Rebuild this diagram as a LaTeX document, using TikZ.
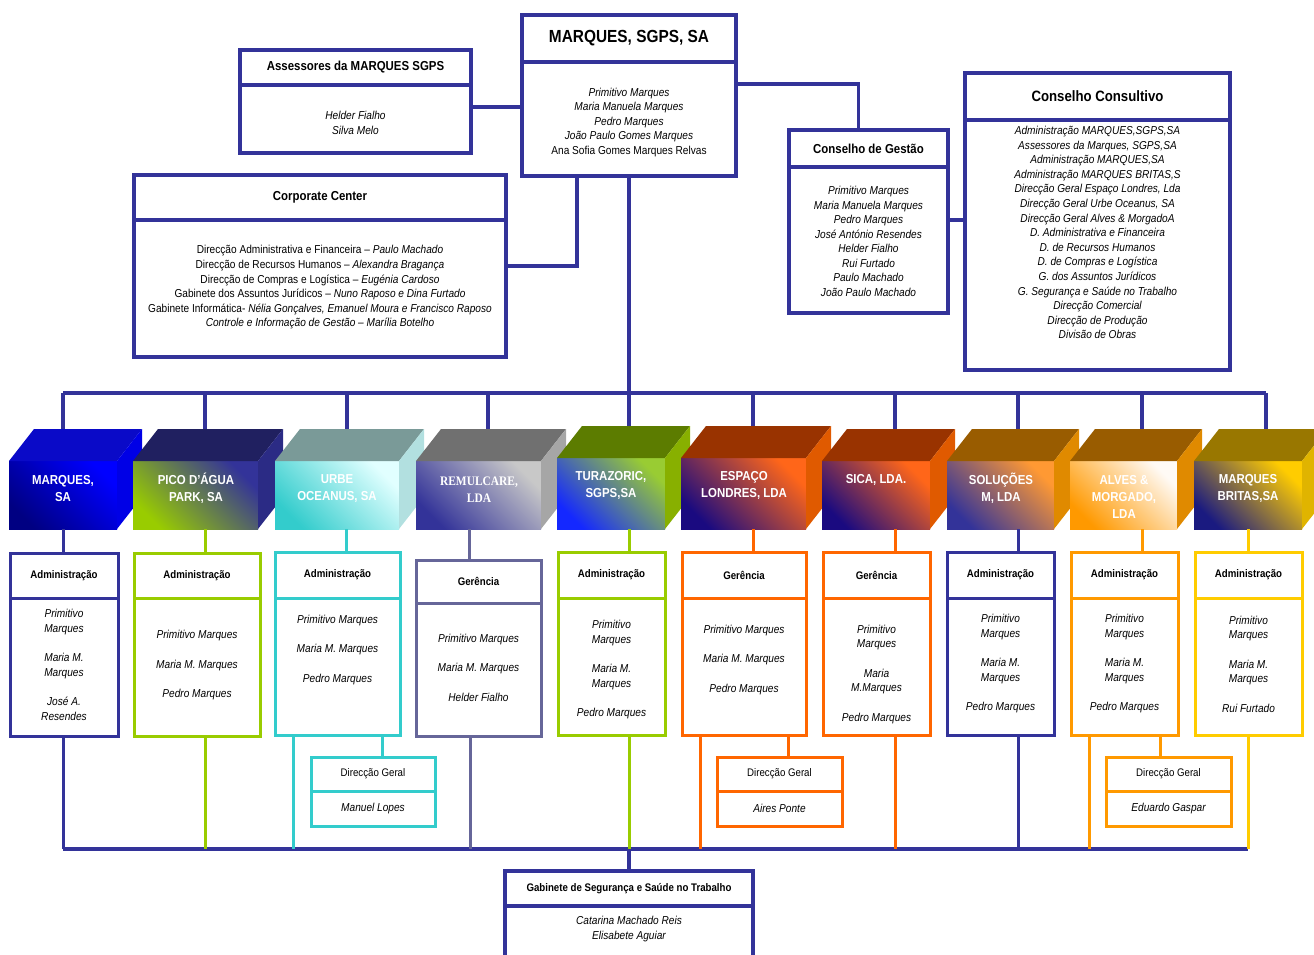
\documentclass[tikz,border=0pt]{standalone}
\usepackage{fontspec}
\setmainfont{Liberation Sans}[FakeStretch=0.88]
\newfontfamily\remfont{Liberation Serif}[FakeStretch=0.88]
\usepackage{tikz}
\definecolor{mqnavy}{RGB}{51, 51, 153}
\definecolor{mqlime}{RGB}{153, 204, 0}
\definecolor{mqturq}{RGB}{51, 204, 204}
\definecolor{mqslate}{RGB}{102, 102, 153}
\definecolor{mqorange}{RGB}{255, 102, 0}
\definecolor{mqamber}{RGB}{255, 153, 0}
\definecolor{mqgold}{RGB}{255, 204, 0}
\definecolor{marlo}{RGB}{0, 0, 130}
\definecolor{marmid}{RGB}{0, 0, 200}
\definecolor{marhi}{RGB}{0, 0, 255}
\definecolor{martop}{RGB}{10, 10, 200}
\definecolor{marside}{RGB}{0, 0, 230}
\definecolor{piclo}{RGB}{153, 204, 0}
\definecolor{picmid}{RGB}{140, 190, 20}
\definecolor{pichi}{RGB}{51, 51, 153}
\definecolor{pictop}{RGB}{32, 32, 96}
\definecolor{picside}{RGB}{43, 43, 133}
\definecolor{urblo}{RGB}{51, 204, 204}
\definecolor{urbmid}{RGB}{120, 225, 225}
\definecolor{urbhi}{RGB}{225, 255, 255}
\definecolor{urbtop}{RGB}{122, 154, 152}
\definecolor{urbside}{RGB}{178, 224, 224}
\definecolor{remlo}{RGB}{51, 51, 153}
\definecolor{remmid}{RGB}{130, 130, 180}
\definecolor{remhi}{RGB}{200, 200, 200}
\definecolor{remtop}{RGB}{112, 112, 112}
\definecolor{remside}{RGB}{166, 166, 166}
\definecolor{turlo}{RGB}{20, 40, 255}
\definecolor{turmid}{RGB}{40, 90, 235}
\definecolor{turhi}{RGB}{153, 204, 51}
\definecolor{turtop}{RGB}{92, 124, 0}
\definecolor{turside}{RGB}{136, 176, 0}
\definecolor{esplo}{RGB}{26, 10, 128}
\definecolor{espmid}{RGB}{180, 60, 100}
\definecolor{esphi}{RGB}{255, 102, 25}
\definecolor{esptop}{RGB}{153, 51, 0}
\definecolor{espside}{RGB}{224, 90, 0}
\definecolor{sollo}{RGB}{51, 51, 153}
\definecolor{solmid}{RGB}{150, 90, 130}
\definecolor{solhi}{RGB}{255, 153, 51}
\definecolor{soltop}{RGB}{153, 92, 0}
\definecolor{solside}{RGB}{224, 138, 0}
\definecolor{alvlo}{RGB}{255, 153, 0}
\definecolor{alvmid}{RGB}{255, 190, 120}
\definecolor{alvhi}{RGB}{255, 250, 245}
\definecolor{brilo}{RGB}{26, 26, 128}
\definecolor{brimid}{RGB}{150, 120, 110}
\definecolor{brihi}{RGB}{255, 204, 0}
\definecolor{britop}{RGB}{153, 119, 0}
\definecolor{briside}{RGB}{224, 180, 0}

\begin{document}
\begin{tikzpicture}[x=1pt, y=-1pt,
	box/.style={draw=#1, line width=3pt, fill=white, outer sep=0pt, inner sep=0pt},
	bigbox/.style={box=#1, line width=3.8pt},
	hd/.style={font=\bfseries\fontsize{11}{13}\selectfont},
	nm/.style={font=\itshape\fontsize{11.5}{14.5}\selectfont, align=center, inner sep=0pt},
	lnk/.style={draw=#1, line width=3pt},
	cube/.style={outer sep=0pt, inner sep=0pt},
	tag/.style={text=white, font=\bfseries\fontsize{13}{17}\selectfont, align=center, inner sep=0pt}]
	\useasboundingbox (0,0) rectangle (1314,955);

	\node[bigbox=mqnavy, hd, font=\bfseries\fontsize{17.5}{20}\selectfont, minimum width=214pt, minimum height=47pt] (sgpsH) at (629,38.5) {MARQUES, SGPS, SA};
	\node[bigbox=mqnavy, minimum width=214pt, minimum height=114pt, anchor=north] (sgpsB) at (sgpsH.south) {};
	\node[bigbox=mqnavy, hd, font=\bfseries\fontsize{13}{15}\selectfont, minimum width=231pt, minimum height=35pt] (assH) at (355.5,67.5) {Assessores da MARQUES SGPS};
	\node[bigbox=mqnavy, minimum width=231pt, minimum height=68pt, anchor=north] (assB) at (assH.south) {};
	\node[bigbox=mqnavy, hd, font=\bfseries\fontsize{13}{15}\selectfont, minimum width=372pt, minimum height=45pt] (corpH) at (320,197.5) {Corporate Center};
	\node[bigbox=mqnavy, minimum width=372pt, minimum height=137pt, anchor=north] (corpB) at (corpH.south) {};
	\node[bigbox=mqnavy, hd, font=\bfseries\fontsize{13}{15}\selectfont, minimum width=159pt, minimum height=37pt] (gestH) at (868.5,148.5) {Conselho de Gestão};
	\node[bigbox=mqnavy, minimum width=159pt, minimum height=146pt, anchor=north] (gestB) at (gestH.south) {};
	\node[bigbox=mqnavy, hd, font=\bfseries\fontsize{15}{17}\selectfont, minimum width=265pt, minimum height=47pt] (consH) at (1097.5,96.5) {Conselho Consultivo};
	\node[bigbox=mqnavy, minimum width=265pt, minimum height=250pt, anchor=north] (consB) at (consH.south) {};
	\node[bigbox=mqnavy, hd, minimum width=248pt, minimum height=35pt] (gabH) at (629,888.5) {Gabinete de Segurança e Saúde no Trabalho};
	\node[bigbox=mqnavy, minimum width=248pt, minimum height=60pt, anchor=north] (gabB) at (gabH.south) {};

	\node[nm] (sgpsT) at (629,122.5) {Primitivo Marques\\Maria Manuela Marques\\Pedro Marques\\João Paulo Gomes Marques\\{\upshape Ana Sofia Gomes Marques Relvas}};
	\node[nm] (assT) at (355.5,123) {Helder Fialho\\Silva Melo};
	\node[nm, font=\fontsize{11.5}{14.6}\selectfont] (corpT) at (320,287.5) {Direcção Administrativa e Financeira – \textit{Paulo Machado}\\Direcção de Recursos Humanos – \textit{Alexandra Bragança}\\Direcção de Compras e Logística – \textit{Eugénia Cardoso}\\Gabinete dos Assuntos Jurídicos – \textit{Nuno Raposo e Dina Furtado}\\Gabinete Informática- \textit{Nélia Gonçalves, Emanuel Moura e Francisco Raposo}\\\textit{Controle e Informação de Gestão – Marília Botelho}};
	\node[nm] (gestT) at (868.5,241.5) {Primitivo Marques\\Maria Manuela Marques\\Pedro Marques\\José António Resendes\\Helder Fialho\\Rui Furtado\\Paulo Machado\\João Paulo Machado};
	\node[nm, font=\itshape\fontsize{11.5}{14.6}\selectfont] (consT) at (1097.5,232.5) {Administração MARQUES,SGPS,SA\\Assessores da Marques, SGPS,SA\\Administração MARQUES,SA\\Administração MARQUES BRITAS,S\\Direcção Geral Espaço Londres, Lda\\Direcção Geral Urbe Oceanus, SA\\Direcção Geral Alves \& MorgadoA\\D. Administrativa e Financeira\\D. de Recursos Humanos\\D. de Compras e Logística\\G. dos Assuntos Jurídicos\\G. Segurança e Saúde no Trabalho\\Direcção Comercial\\Direcção de Produção\\Divisão de Obras};
	\node[nm] (gabT) at (629,929) {Catarina Machado Reis\\Elisabete Aguiar};

	\foreach \id/\cx/\cy/\bw/\hh/\ka/\kb/\kc/\kt/\ks in {
		mar/63/495/108/68/marlo/marmid/marhi/martop/marside,
		pic/195.5/495/125/68/piclo/picmid/pichi/pictop/picside,
		urb/337/495/124/68/urblo/urbmid/urbhi/urbtop/urbside,
		rem/478.5/495/125/68/remlo/remmid/remhi/remtop/remside,
		tur/611/493.5/108/71/turlo/turmid/turhi/turtop/turside,
		esp/743.5/493.5/125/71/esplo/espmid/esphi/esptop/espside,
		sic/876/495/108/68/esplo/espmid/esphi/esptop/espside,
		sol/1000.5/495/107/68/sollo/solmid/solhi/soltop/solside,
		alv/1123.5/495/107/68/alvlo/alvmid/alvhi/soltop/solside,
		bri/1248/495/108/68/brilo/brimid/brihi/britop/briside}{
		\node[cube, minimum width=\bw pt, minimum height=\hh pt, bottom color=\ka, middle color=\kb, top color=\kc, shading angle=-45] (\id F) at (\cx,\cy) {};
		\fill[\kt] (\id F.north west) -- ++(25,-32) -- ([shift={(25,-32)}]\id F.north east) -- (\id F.north east) -- cycle;
		\fill[\ks] (\id F.north east) -- ++(25,-32) -- ([shift={(25,-32)}]\id F.south east) -- (\id F.south east) -- cycle;
	}
	\node[tag] (marL) at (63,489) {MARQUES,\\SA};
	\node[tag] (picL) at (196,488.5) {PICO D’ÁGUA\\PARK, SA};
	\node[tag] (urbL) at (337,488.5) {URBE\\OCEANUS, SA};
	\node[tag, font=\remfont\bfseries\fontsize{13}{17}\selectfont] (remL) at (479,489.5) {REMULCARE,\\LDA};
	\node[tag] (turL) at (611,485.5) {TURAZORIC,\\SGPS,SA};
	\node[tag] (espL) at (744,485.5) {ESPAÇO\\LONDRES, LDA};
	\node[tag] (sicL) at (876,480) {SICA, LDA.};
	\node[tag] (solL) at (1001,488.5) {SOLUÇÕES\\M, LDA};
	\node[tag] (alvL) at (1124,497) {ALVES \&\\MORGADO,\\LDA};
	\node[tag] (briL) at (1248,488.5) {MARQUES\\BRITAS,SA};

	\foreach \id/\cx/\cy/\bw/\hh/\bh/\col/\ttl in {
		mar/64/575.5/108/45/138/mqnavy/Administração,
		pic/197/575.5/126/45/138/mqlime/Administração,
		urb/337.5/575/125/46/137/mqturq/Administração,
		rem/478.5/581.5/125/43/133/mqslate/Gerência,
		tur/611.5/575/107/46/137/mqlime/Administração,
		esp/744/575/124/46/137/mqorange/Gerência,
		sic/876.5/575/107/46/137/mqorange/Gerência,
		sol/1000.5/575/107/46/137/mqnavy/Administração,
		alv/1124.5/575/107/46/137/mqamber/Administração,
		bri/1248.5/575/107/46/137/mqgold/Administração}{
		\node[box=\col, hd, minimum width=\bw pt, minimum height=\hh pt] (\id H) at (\cx,\cy) {\ttl};
		\node[box=\col, minimum width=\bw pt, minimum height=\bh pt, anchor=north] (\id B) at (\id H.south) {};
	}
	\node[nm] (marT) at (64,665) {Primitivo\\Marques\\[15pt]Maria M.\\Marques\\[15pt]José A.\\Resendes};
	\node[nm] (picT) at (197,665.5) {Primitivo Marques\\[15pt]Maria M. Marques\\[15pt]Pedro Marques};
	\node[nm] (urbT) at (337.5,650) {Primitivo Marques\\[15pt]Maria M. Marques\\[15pt]Pedro Marques};
	\node[nm] (remT) at (478.5,667.5) {Primitivo Marques\\[15pt]Maria M. Marques\\[15pt]Helder Fialho};
	\node[nm] (turT) at (611.5,670) {Primitivo\\Marques\\[15pt]Maria M.\\Marques\\[15pt]Pedro Marques};
	\node[nm] (espT) at (744,660) {Primitivo Marques\\[15pt]Maria M. Marques\\[15pt]Pedro Marques};
	\node[nm] (sicT) at (876.5,674.5) {Primitivo\\Marques\\[15pt]Maria\\M.Marques\\[15pt]Pedro Marques};
	\node[nm] (solT) at (1000.5,664) {Primitivo\\Marques\\[15pt]Maria M.\\Marques\\[15pt]Pedro Marques};
	\node[nm] (alvT) at (1124.5,664) {Primitivo\\Marques\\[15pt]Maria M.\\Marques\\[15pt]Pedro Marques};
	\node[nm] (briT) at (1248.5,664) {Primitivo\\Marques\\[15pt]Maria M.\\Marques\\[15pt]Rui Furtado};

	\node[box=mqturq, font=\fontsize{11}{13}\selectfont, minimum width=124pt, minimum height=34pt] (urbDH) at (373,774) {Direcção Geral};
	\node[box=mqturq, nm, minimum width=124pt, minimum height=35pt, anchor=north] (urbDB) at (urbDH.south) {Manuel Lopes};
	\node[box=mqorange, font=\fontsize{11}{13}\selectfont, minimum width=125pt, minimum height=34pt] (espDH) at (779.5,774) {Direcção Geral};
	\node[box=mqorange, nm, minimum width=125pt, minimum height=35pt, anchor=north] (espDB) at (espDH.south) {Aires Ponte};
	\node[box=mqamber, font=\fontsize{11}{13}\selectfont, minimum width=125pt, minimum height=34pt] (alvDH) at (1168.5,774) {Direcção Geral};
	\node[box=mqamber, nm, minimum width=125pt, minimum height=35pt, anchor=north] (alvDB) at (alvDH.south) {Eduardo Gaspar};

	\coordinate (busL) at (63,393);
	\coordinate (busT) at (629,393);
	\coordinate (busR) at (1266,393);
	\coordinate (botL) at (63,849);
	\coordinate (botT) at (629,849);
	\coordinate (botR) at (1248,849);

	\draw[lnk=mqnavy, line width=3.5pt] ([yshift=12pt]assB.east) -- ([yshift=12pt]assB.east -| sgpsB.west);
	\draw[lnk=mqnavy, line width=3.5pt] ([yshift=-22pt]sgpsB.north east) -| ([xshift=-10pt]gestH.north);
	\draw[lnk=mqnavy, line width=3.5pt] ([yshift=20pt]gestB.east) -- ([yshift=20pt]gestB.east -| consB.west);
	\draw[lnk=mqnavy, line width=3.5pt] ([yshift=22.5pt]corpB.east) -| ([xshift=-52pt]sgpsB.south);
	\draw[lnk=mqnavy, line width=3.5pt] (sgpsB.south) -- (busT);
	\draw[lnk=mqnavy, line width=3.5pt] (busL) -- (busR);
	\draw[lnk=mqnavy, line width=3.5pt] (botL) -- (botR);
	\draw[lnk=mqnavy, line width=3.5pt] (botT) -- (gabH.north);

	\foreach \id/\xt/\xm/\xb/\col in {mar/63/63/63/mqnavy, pic/205/205/205/mqlime, urb/347/346/293/mqturq, rem/488/469/470/mqslate, tur/629/629/629/mqlime, esp/753/753/700/mqorange, sic/895/895/895/mqorange, sol/1018/1018/1018/mqnavy, alv/1142/1142/1089/mqamber, bri/1266/1248/1248/mqgold}{
		\draw[lnk=mqnavy, line width=3.5pt] (busT -| \xt,0) -- ([yshift=32pt]\id F.north -| \xt,0);
		\draw[lnk=\col] (\id F.south -| \xm,0) -- (\id H.north -| \xm,0);
		\draw[lnk=\col] (\id B.south -| \xb,0) -- (botT -| \xb,0);
	}
	\draw[lnk=mqturq] (urbB.south -| 382,0) -- (urbDH.north -| 382,0);
	\draw[lnk=mqorange] (espB.south -| 788,0) -- (espDH.north -| 788,0);
	\draw[lnk=mqamber] (alvB.south -| 1160,0) -- (alvDH.north -| 1160,0);
\end{tikzpicture}
\end{document}
